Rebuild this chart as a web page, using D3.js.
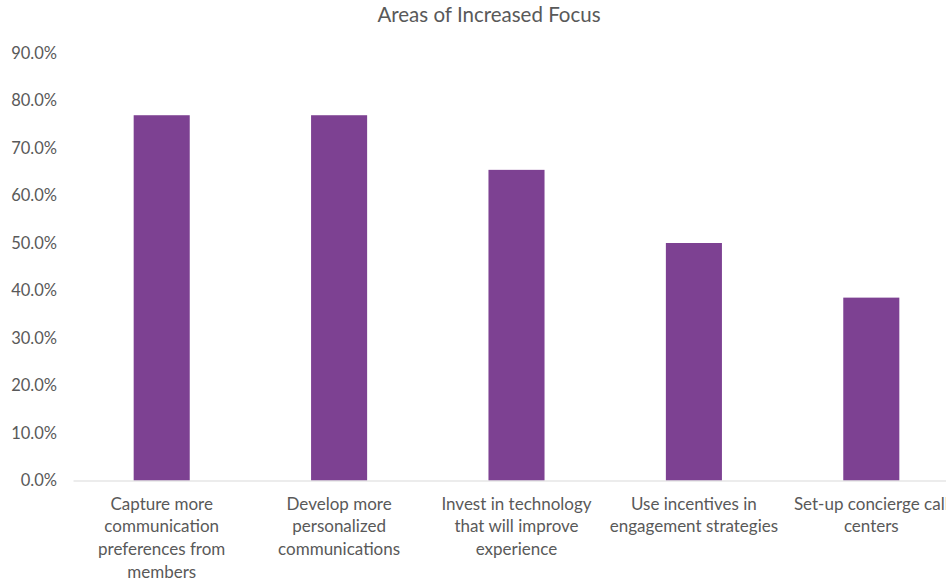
<!DOCTYPE html>
<html>
<head>
<meta charset="utf-8">
<script src="https://cdn.jsdelivr.net/npm/d3@7/dist/d3.min.js"></script>
<style>
  html, body { margin: 0; padding: 0; background: #fff; }
  svg { display: block; font-family: Lato, "Open Sans", sans-serif; }
</style>
</head>
<body>
<svg id="chart" width="946" height="581"></svg>
<script>
// Survey results: share of respondents focusing on each area
const categories = [
  "Capture more communication preferences from members",
  "Develop more personalized communications",
  "Invest in technology that will improve experience",
  "Use incentives in engagement strategies",
  "Set-up concierge call centers"
];
const shares = [0.769, 0.769, 0.654, 0.500, 0.385];
const yTicks = [0, 0.1, 0.2, 0.3, 0.4, 0.5, 0.6, 0.7, 0.8, 0.9];
const title = "Areas of Increased Focus";

const svg = d3.select("#chart");
const margin = { left: 73, right: -14, top: 53, bottom: 100.5 };
const W = 946, H = 581;
const textColor = "#595959";

const x = d3.scaleBand()
  .domain(categories)
  .range([margin.left, W - margin.right])
  .paddingInner(0.684)
  .paddingOuter(0.342);

const y = d3.scaleLinear()
  .domain([0, 0.9])
  .range([H - margin.bottom, margin.top]);

// Title
svg.append("text")
  .attr("x", 489)
  .attr("y", 22)
  .attr("text-anchor", "middle")
  .attr("fill", textColor)
  .style("font-size", "20.5px")
  .text(title);

// Value axis (labels only)
const yAxis = svg.append("g")
  .attr("transform", `translate(${margin.left - 16},0)`)
  .call(d3.axisLeft(y).tickValues(yTicks).tickFormat(d3.format(".1%")).tickSize(0).tickPadding(0));
yAxis.select(".domain").remove();
yAxis.selectAll("text")
  .attr("fill", textColor)
  .style("font-size", "16.5px")
  .style("font-family", "Lato, 'Open Sans', sans-serif");

// Bars
svg.append("g")
  .selectAll("rect")
  .data(categories)
  .join("rect")
  .attr("x", d => x(d))
  .attr("width", x.bandwidth())
  .attr("y", (d, i) => y(shares[i]))
  .attr("height", (d, i) => y(0) - y(shares[i]))
  .attr("fill", "#7D4192");

// Category axis
const xAxis = svg.append("g")
  .attr("transform", `translate(0,${y(0)})`)
  .call(d3.axisBottom(x).tickSize(0).tickPadding(0).tickSizeOuter(0));
xAxis.select(".domain").attr("stroke", "#d9d9d9").attr("stroke-width", 1.2);
xAxis.selectAll("text").remove();

// Wrapped category labels
function wrapLines(text, maxWidth, probe) {
  const words = text.split(" ");
  const lines = [];
  let line = words[0];
  for (let i = 1; i < words.length; i++) {
    const trial = line + " " + words[i];
    probe.text(trial);
    if (probe.node().getComputedTextLength() > maxWidth) {
      lines.push(line);
      line = words[i];
    } else {
      line = trial;
    }
  }
  lines.push(line);
  return lines;
}

const labelG = svg.append("g")
  .attr("fill", textColor)
  .style("font-size", "17px");
const probe = labelG.append("text").attr("visibility", "hidden");

categories.forEach(c => {
  const lines = wrapLines(c, 176, probe);
  const t = labelG.append("text")
    .attr("text-anchor", "middle")
    .attr("x", x(c) + x.bandwidth() / 2)
    .attr("y", y(0) + 29);
  lines.forEach((ln, i) => {
    t.append("tspan")
      .attr("x", x(c) + x.bandwidth() / 2)
      .attr("dy", i === 0 ? 0 : 22.7)
      .text(ln);
  });
});
probe.remove();
</script>
</body>
</html>
